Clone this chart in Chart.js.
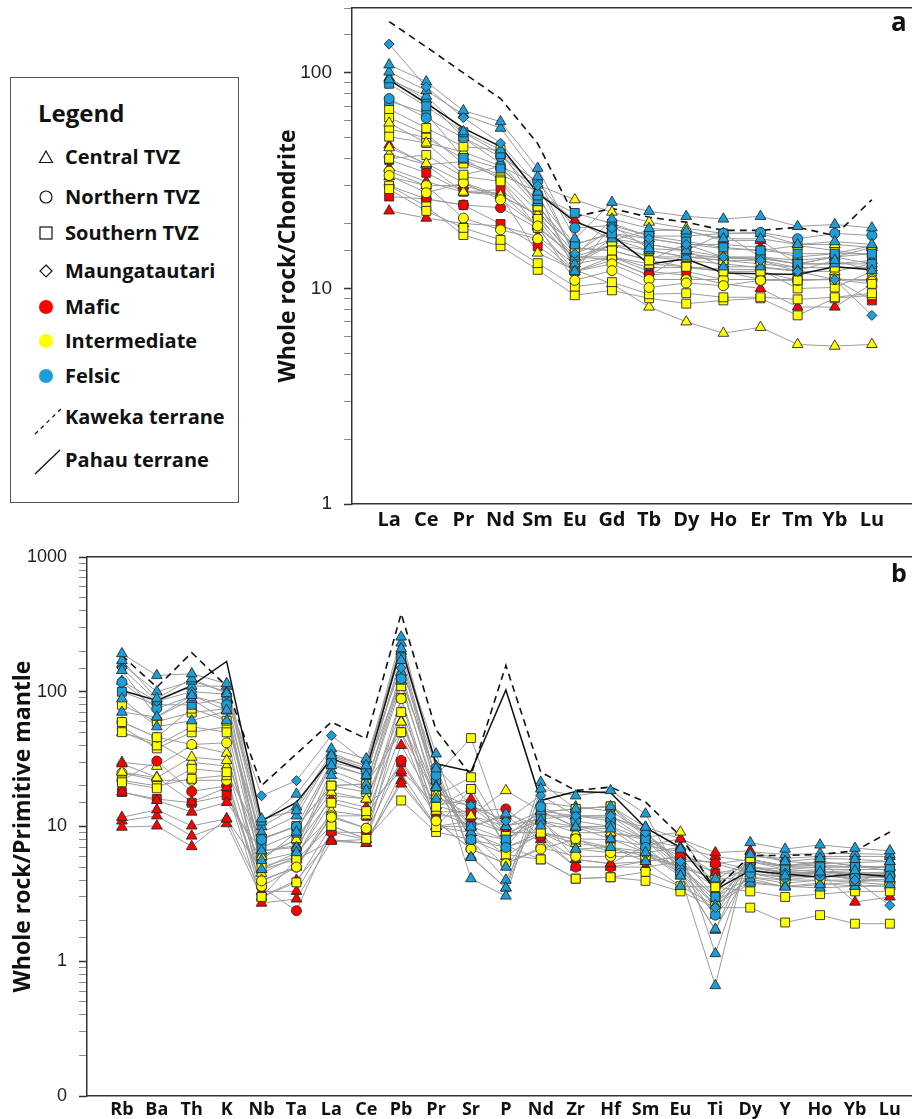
<!DOCTYPE html>
<html>
<head>
<meta charset="utf-8">
<script src="https://cdn.jsdelivr.net/npm/chart.js@4.4.0/dist/chart.umd.min.js"></script>
<style>
html,body{margin:0;padding:0;background:#fff;overflow:hidden;width:912px;height:1119px;position:relative;}
#wrapA{position:absolute;left:270px;top:0;width:670px;height:540px;}
#wrapB{position:absolute;left:0;top:540px;width:940px;height:585px;}
.tag{position:absolute;font-family:'Open Sans',sans-serif;font-weight:700;color:#111;line-height:1;}
#legend{position:absolute;left:10px;top:77px;width:229px;height:426px;border:1.3px solid #555;box-sizing:border-box;}
.lt{position:absolute;font-family:'Open Sans',sans-serif;font-weight:700;color:#111;white-space:nowrap;line-height:28px;}
.sym{position:absolute;}
</style>
</head>
<body>
<div id="wrapA"><canvas id="ca" width="670" height="540"></canvas></div>
<div id="wrapB"><canvas id="cb" width="940" height="585"></canvas></div>

<div id="legend"></div>
<div class="lt" style="left:38px;top:99px;font-size:24px;">Legend</div>
<svg class="sym" style="left:38px;top:149px" width="16" height="16"><polygon points="8,2 14.5,13.5 1.5,13.5" fill="none" stroke="#111" stroke-width="1.2"/></svg>
<div class="lt" style="left:65px;top:143px;font-size:20px;">Central TVZ</div>
<svg class="sym" style="left:38px;top:189px" width="16" height="16"><circle cx="8" cy="8" r="6" fill="none" stroke="#111" stroke-width="1.2"/></svg>
<div class="lt" style="left:65px;top:183px;font-size:20px;">Northern TVZ</div>
<svg class="sym" style="left:38px;top:225px" width="16" height="16"><rect x="2" y="2" width="12" height="12" fill="none" stroke="#111" stroke-width="1.2"/></svg>
<div class="lt" style="left:65px;top:219px;font-size:20px;">Southern TVZ</div>
<svg class="sym" style="left:38px;top:263px" width="16" height="16"><polygon points="8,2 14,8 8,14 2,8" fill="none" stroke="#111" stroke-width="1.2"/></svg>
<div class="lt" style="left:65px;top:257px;font-size:20px;">Maungatautari</div>
<svg class="sym" style="left:38px;top:299px" width="16" height="16"><circle cx="8" cy="8" r="7" fill="#ff0000"/></svg>
<div class="lt" style="left:65px;top:293px;font-size:20px;">Mafic</div>
<svg class="sym" style="left:38px;top:333px" width="16" height="16"><circle cx="8" cy="8" r="7" fill="#ffff00"/></svg>
<div class="lt" style="left:65px;top:327px;font-size:20px;">Intermediate</div>
<svg class="sym" style="left:38px;top:368px" width="16" height="16"><circle cx="8" cy="8" r="7" fill="#1a9fdb"/></svg>
<div class="lt" style="left:65px;top:362px;font-size:20px;">Felsic</div>
<svg class="sym" style="left:33px;top:405px" width="32" height="32"><line x1="2" y1="29" x2="29" y2="3" stroke="#111" stroke-width="1.3" stroke-dasharray="4,4"/></svg>
<div class="lt" style="left:65px;top:403px;font-size:20px;">Kaweka terrane</div>
<svg class="sym" style="left:33px;top:447px" width="32" height="32"><line x1="2" y1="27" x2="27" y2="3" stroke="#111" stroke-width="1.3"/></svg>
<div class="lt" style="left:65px;top:446px;font-size:20px;">Pahau terrane</div>

<div class="tag" style="left:891px;top:8px;font-size:26px;">a</div>
<div class="tag" style="left:891px;top:560px;font-size:25px;">b</div>

<script>
// ---------- categories ----------
const REE = ['La','Ce','Pr','Nd','Sm','Eu','Gd','Tb','Dy','Ho','Er','Tm','Yb','Lu'];
const SPIDER = ['Rb','Ba','Th','K','Nb','Ta','La','Ce','Pb','Pr','Sr','P','Nd','Zr','Hf','Sm','Eu','Ti','Dy','Y','Ho','Yb','Lu'];

// ---------- panel a: chondrite-normalised REE ----------
const reeKaweka = [173, 132, 100, 76, 47, 21.5, 23.5, 21.4, 20.3, 18.6, 18.6, 19.2, 17.6, 25.8];
const reePahau  = [92.8, 72.3, 55.4, 45.5, 27.7, 20.4, 17.6, 13.0, 13.7, 11.8, 11.7, 11.6, 12.6, 12.2];

const reeS01 = [136, 86, 62, 47.2, 30, 14.5, 19, 17, 16, 14, 13.5, 12, 11, 7.5];
const reeS02 = [109, 91, 66.8, 59.4, 36.1, 17, 25.1, 22.8, 21.6, 21, 21.6, 19.4, 19.8, 19.1];
const reeS03 = [101, 82.8, 64, 55.4, 33, 14, 21, 19, 18.5, 17, 17, 16, 16.5, 16];
const reeS04 = [93, 78, 53.4, 44, 28, 12, 19.6, 15.3, 15, 12.6, 12.6, 12.1, 13.5, 12.1];
const reeS05 = [89, 70, 53, 42, 27, 22.4, 20, 17.5, 16.5, 15.5, 15, 14.5, 14.5, 14.5];
const reeS06 = [76, 61.8, 50, 40.9, 31.3, 19.1, 19.6, 17.5, 17.5, 18, 18.2, 17, 18, 17.6];
const reeS07 = [74, 65, 40.3, 36, 26, 16, 18, 16, 15, 18, 14, 13, 14, 13];
const reeS08 = [95, 75, 50, 38, 25, 13, 17, 15, 14, 14, 13.8, 13, 13, 13.5];
const reeS09 = [68, 55.5, 45.5, 43.9, 24, 15.4, 15, 13.5, 12.6, 12, 12, 10.9, 11, 10.5];
const reeS10 = [58.6, 47.3, 43, 37, 30.2, 25.8, 22.6, 20.3, 19, 18, 18, 16, 16, 15.5];
const reeS11 = [50.6, 47.3, 33.7, 36.8, 24, 15.4, 15, 13.5, 16.1, 15.3, 15, 15.8, 15, 14.2];
const reeS12 = [33.4, 27.8, 30.9, 25.8, 19.5, 10.9, 12.1, 10.1, 10.6, 10.3, 10.9, 10.9, 11.1, 10.8];
const reeS13 = [28.9, 22.9, 19.1, 16.8, 13.1, 10.2, 10.7, 9.4, 9.5, 9.1, 9.1, 8.9, 9.1, 9.5];
const reeS14 = [30, 24, 17.7, 15.7, 12.2, 9.3, 9.8, 9, 8.5, 8.8, 9, 7.5, 9, 9.3];
const reeS15 = [45, 38, 31, 27, 14.6, 12.2, 10.5, 8.2, 7.0, 6.2, 6.6, 5.5, 5.4, 5.5];
const reeS16 = [35, 30, 21.2, 18.7, 17, 12, 13, 11, 11, 11, 11, 11, 11, 11];
const reeS17 = [40, 41.6, 33, 31.4, 19.1, 14, 14, 13, 12.6, 12.3, 12.2, 10, 10.1, 12];
const reeS18 = [55, 50, 40, 32, 21, 13, 16, 15, 14, 13.5, 13, 12.5, 12.5, 12.5];
const reeS19 = [42, 37.5, 28, 27, 22, 13.5, 16, 14, 13.5, 13, 12.5, 12, 12, 13];
const reeS20 = [62, 52, 38, 33, 23, 14.5, 17, 16, 15, 14, 14, 13.5, 14, 14.5];
const reeS21 = [46.3, 37.5, 38.8, 33.7, 28.1, 20.8, 16.7, 18.6, 18.6, 16.7, 16.7, 13, 14, 15.5];
const reeS22 = [39.5, 34.4, 28.1, 28.7, 21.5, 14.1, 13.5, 11.5, 14.5, 13.8, 13.8, 13, 13, 13];
const reeS23 = [36.2, 31.3, 28, 27.7, 19.4, 14, 16, 14, 14, 13.5, 13.5, 12.5, 12.5, 12.5];
const reeS24 = [26.7, 26, 24.4, 19.9, 15.7, 12, 13.5, 11.5, 12, 11, 11, 11, 11, 8.8];
const reeS25 = [22.9, 21.2, 20, 19.5, 17.4, 13, 14, 12, 11.5, 10.5, 10, 8.2, 8.2, 10.5];
const reeS26 = [30, 26, 24.4, 23.7, 19, 12, 14, 12.5, 12.5, 12, 11, 11, 11, 11];
const reeS27 = [33, 30, 30, 27, 22, 16, 18, 17, 16, 16, 15.5, 14, 14.5, 15.8];

const reeSamples = [reeS01,reeS02,reeS03,reeS04,reeS05,reeS06,reeS07,reeS08,reeS09,reeS10,reeS11,reeS12,reeS13,reeS14,
  reeS15,reeS16,reeS17,reeS18,reeS19,reeS20,reeS21,reeS22,reeS23,reeS24,reeS25,reeS26,reeS27];
// region: C=Central, N=Northern, S=Southern TVZ, M=Maungatautari ; rock: F=felsic, I=intermediate, B=mafic
const reeRegion = ['M','C','C','C','S','N','S','C','S','C','S','N','S','S','C','N','S','S','C','S','C','S','C','S','C','N','C'];
const reeRock   = ['F','F','F','F','F','F','F','F','I','I','I','I','I','I','I','I','I','I','I','I','B','B','B','B','B','B','B'];

// ---------- panel b: primitive-mantle-normalised spider diagram ----------
const pmKaweka = [186, 108, 195, 110, 20.1, 34.6, 59.6, 44.8, 380, 52, 24, 157, 25.3, 18.5, 19.6, 15.2, 8.5, 3.4, 6.1, 6.1, 6.2, 6.6, 9.1];
const pmPahau  = [102, 86.3, 111, 168, 11.0, 15.1, 31.8, 26.0, 215, 29.2, 25.6, 103, 15.6, 18.2, 17.8, 9.8, 7.0, 3.4, 4.7, 4.45, 4.2, 4.45, 4.25];

const pmS01 = [192, 132, 136, 115, 11.4, 13.1, 33.6, 28.3, 255, 26.8, 4.1, 3.05, 19.0, 16.9, 18.5, 12.4, 4.3, 0.66, 7.6, 6.8, 7.3, 6.9, 6.6];
const pmS02 = [171, 89, 125, 97, 10.8, 17.4, 37.7, 31.8, 209, 34.6, 5.9, 3.5, 21.3, 13.5, 14.1, 9.9, 6.8, 1.14, 6.2, 5.5, 5.8, 5.7, 5.5];
const pmS03 = [144, 65, 94, 73, 5.6, 9.1, 28.3, 23.9, 171, 19.5, 9.9, 12.4, 10.1, 9.9, 9.6, 6.4, 4.3, 1.73, 4.85, 4.3, 4.6, 4.7, 4.1];
const pmS04 = [150, 85, 100, 96, 16.9, 21.9, 47.3, 30, 150, 28, 14.3, 11, 17, 12, 12, 9, 5.5, 2.5, 5, 4.5, 4.5, 4, 2.6];
const pmS05 = [118, 75, 93, 80, 8, 10, 30, 26, 125, 24, 8, 7, 14, 11, 10, 7, 4.5, 2.2, 4.5, 4.2, 4.3, 4.2, 4.3];
const pmS06 = [88.7, 55, 61, 72, 4.8, 6.4, 23.9, 18.5, 120, 16, 14.3, 10, 13, 9.9, 8.1, 6.4, 5, 4.1, 4.1, 3.55, 3.7, 3.85, 4.1];
const pmS07 = [70.6, 64.9, 88, 61, 6.6, 7, 26, 20.7, 140, 20, 9, 5, 11, 6.8, 7, 5.5, 3.6, 2.6, 3.8, 3.6, 3.5, 3.6, 3.7];
const pmS08 = [100, 80, 80, 90, 7, 9, 29, 24, 180, 22, 10, 8, 12, 12, 11, 8, 5, 3, 5, 4.8, 5, 5, 5];
const pmS09 = [59.6, 46, 75, 61, 8.1, 10.1, 20.1, 20.7, 125, 23.9, 45.3, 8.5, 12.8, 13.5, 14.1, 8.3, 5.3, 3.55, 5.7, 5.1, 5.5, 5.1, 4.7];
const pmS10 = [59.6, 46, 40.6, 41.8, 3.95, 5.0, 11.7, 9.7, 88.7, 11, 6.8, 5.3, 6.8, 8.1, 6.4, 6.4, 4.5, 2.6, 5.7, 5.1, 5.3, 3.85, 4.7];
const pmS11 = [50.1, 40, 55, 50, 3.0, 3.85, 10.1, 8.1, 70.6, 9.9, 19, 7.2, 5.7, 4.1, 4.2, 3.95, 3.3, 2.5, 2.5, 1.94, 2.2, 1.9, 1.9];
const pmS12 = [25.3, 23, 32.7, 30.9, 6, 8, 18, 16, 59.6, 17, 12, 18.5, 13, 10, 9, 8.3, 9.1, 3.2, 5.5, 5, 5.2, 5, 5];
const pmS13 = [21.3, 19.2, 26.8, 25.3, 8.1, 10, 20.1, 20.7, 50.1, 16.9, 23.2, 8.5, 12.8, 13.5, 14.1, 9, 5.3, 4, 5.7, 5.1, 5.5, 5.1, 5];
const pmS14 = [22, 20, 22.6, 24, 3.0, 5.7, 10.1, 8.1, 15.6, 9.1, 8, 6.2, 5.7, 4.1, 4.2, 4.6, 3.6, 3.55, 3.3, 3, 3.15, 3.3, 3.3];
const pmS15 = [25, 22, 22, 22, 3.6, 5, 12, 9.7, 50, 11, 6.8, 5.3, 7, 6, 6, 6, 5, 2.6, 4.2, 4, 4, 3.85, 3.7];
const pmS16 = [55, 38, 50, 55, 5, 6, 15, 13, 90, 14, 19, 7, 9, 8, 7, 6, 5, 3, 4.2, 3.8, 4, 4, 3.9];
const pmS17 = [50, 42, 30, 28, 4, 5, 13, 12, 60, 13, 10, 6, 9, 7.5, 7, 6.5, 5, 2.8, 3.9, 3.6, 3.8, 3.6, 3.6];
const pmS18 = [29.2, 23.2, 15.2, 19.5, 2.7, 2.9, 7.8, 8, 40, 14.3, 16, 10.1, 11.4, 5.7, 5.3, 7.2, 8.1, 6.4, 6.6, 5.5, 5.3, 5.4, 5.5];
const pmS19 = [22, 30.6, 18.2, 20, 3.55, 2.37, 9.1, 9, 30.9, 12.8, 13, 13.5, 8.5, 5, 5, 5.5, 6, 5.3, 4.5, 4.2, 4.6, 4.2, 4.2];
const pmS20 = [18, 15.6, 12.8, 15.1, 6.6, 7.2, 16, 13.9, 26, 14.3, 12, 10.1, 11.4, 12, 11.5, 9.9, 8.1, 5.3, 5.7, 5, 5, 5, 5];
const pmS21 = [11.7, 13.3, 10.1, 11.4, 3.3, 3.3, 9.1, 8, 20.7, 10, 9, 7, 8.5, 5.7, 5.3, 5.5, 6, 4.5, 4.5, 4, 4.3, 4.1, 4];
const pmS22 = [9.9, 10.1, 7.1, 11.4, 4.8, 5.7, 7.8, 7.5, 22, 10, 11, 9, 9, 6.8, 6.4, 6.4, 7, 6, 5.5, 4.8, 4.6, 4.5, 4.5];
const pmS23 = [18, 16, 15, 17, 5.6, 6.4, 12, 12, 30, 12, 12, 9, 9, 8.1, 8, 7.2, 6.5, 4.5, 5, 4.5, 4.6, 4.4, 4.4];
const pmS24 = [11, 12, 8.5, 10.5, 3, 4, 8, 7.5, 25, 10, 10, 12, 8, 5, 5, 5, 5.5, 5.5, 4.8, 4.2, 4.5, 2.75, 3];
const pmS25 = [160, 100, 120, 100, 9, 12, 33, 27, 200, 22, 8, 4, 13, 12, 12, 8, 4.5, 1.7, 6.5, 6.2, 6.3, 6.3, 6.2];
const pmS26 = [120, 85, 110, 110, 10, 14, 35, 28, 230, 28, 6, 3.5, 15, 14, 13, 9, 5, 2.2, 6, 5.8, 6, 6, 6];
const pmS27 = [80, 60, 70, 75, 6, 8, 20, 18, 110, 18, 14, 9, 11, 10, 10, 8, 6, 3, 5, 4.6, 4.8, 4.8, 4.8];
const pmS28 = [30, 28, 40, 35, 4.5, 6, 17, 16, 70, 18, 9, 8, 11, 9, 9, 8, 7, 3.8, 5, 4.5, 4.6, 4.5, 4.6];

const pmSamples = [pmS01,pmS02,pmS03,pmS04,pmS05,pmS06,pmS07,pmS08,pmS09,pmS10,pmS11,pmS12,pmS13,pmS14,
  pmS15,pmS16,pmS17,pmS18,pmS19,pmS20,pmS21,pmS22,pmS23,pmS24,pmS25,pmS26,pmS27,pmS28];
const pmRegion = ['C','C','C','M','N','C','C','S','S','N','S','C','S','S','N','S','C','C','N','C','C','C','S','C','C','C','S','C'];
const pmRock   = ['F','F','F','F','F','F','F','F','I','I','I','I','I','I','I','I','I','B','B','B','B','B','B','B','F','F','I','I'];

// ---------- styling ----------
const ROCK_COLOR = {B:'#ff0000', I:'#ffff00', F:'#1a9fdb'};
const REGION_SHAPE = {C:'triangle', N:'circle', S:'rect', M:'rectRot'};
const SHAPE_RADIUS = {triangle:6.2, circle:5, rect:6.3, rectRot:5};
const FONT_SANS = "'Open Sans', sans-serif";
const FONT_TICK = "'Liberation Sans', Arial, sans-serif";

function pts(arr){ return arr.map((v,i)=>({x:i, y:v})); }

function buildDatasets(samples, region, rock, kaweka, pahau){
  const markers = [], greys = [];
  samples.forEach((s, k) => {
    const shape = REGION_SHAPE[region[k]];
    greys.push({data: pts(s), borderColor:'#9b9b9b', borderWidth:1, pointRadius:0, order:3});
    markers.push({data: pts(s), showLine:false, pointStyle:shape, pointRadius:SHAPE_RADIUS[shape],
      pointBackgroundColor:ROCK_COLOR[rock[k]], pointBorderColor:'#2a2a2a', pointBorderWidth:0.9, order:1});
  });
  const terr = [
    {data: pts(kaweka), borderColor:'#111', borderWidth:1.6, borderDash:[7,5], pointRadius:0, order:2},
    {data: pts(pahau), borderColor:'#111', borderWidth:1.5, pointRadius:0, order:2}
  ];
  return markers.concat(terr, greys);
}

function decadeLabel(v){
  const l = Math.log10(v);
  if (Math.abs(l - Math.round(l)) < 1e-6) return v < 1 ? '0' : String(Math.round(v));
  return '';
}

function makeChart(canvas, cfg){
  const cats = cfg.cats;
  return new Chart(canvas, {
    type:'line',
    data:{datasets: buildDatasets(cfg.samples, cfg.region, cfg.rock, cfg.kaweka, cfg.pahau)},
    options:{
      responsive:false, animation:false, events:[],
      layout:{padding:{top:cfg.padTop, left:0, right:0, bottom:0}},
      plugins:{legend:{display:false}, tooltip:{enabled:false}},
      elements:{line:{tension:0}},
      scales:{
        x:{type:'linear', position:'bottom', min:-1, max:cfg.xMax,
          afterBuildTicks:(s)=>{ s.ticks = cats.map((_,i)=>({value:i})); },
          afterFit:(s)=>{ s.height = cfg.xHeight; s.paddingLeft = 0; s.paddingRight = 0; },
          grid:{display:true, drawOnChartArea:false, drawTicks:false},
          border:{display:true, color:'#333', width:1.5},
          ticks:{autoSkip:false, maxRotation:0, padding:cfg.xPad, color:'#111',
            font:{family:FONT_SANS, weight:'bold', size:cfg.xFont},
            callback:(v)=> cats[v] ?? ''}
        },
        x2:{type:'linear', position:'top', min:-1, max:cfg.xMax,
          afterFit:(s)=>{ s.height = 0; s.paddingLeft = 0; s.paddingRight = 0; },
          grid:{display:true, drawOnChartArea:false, drawTicks:false},
          border:{display:true, color:'#333', width:1.5},
          ticks:{display:false}
        },
        y:{type:'logarithmic', min:cfg.yMin, max:cfg.yMax,
          afterFit:(s)=>{ s.width = cfg.yWidth; s.paddingTop = 0; s.paddingBottom = 0; },
          grid:{display:true, drawOnChartArea:false, drawTicks:true, tickLength:8,
            tickColor:(c)=> (c.tick && c.tick.major) ? '#333' : '#8a8a8a',
            tickWidth:(c)=> (c.tick && c.tick.major) ? 1.5 : 1},
          border:{display:true, color:'#333', width:1.5},
          ticks:{autoSkip:false, padding:12, color:'#222',
            font:{family:FONT_TICK, size:cfg.yFont}, callback:decadeLabel},
          title:{display:true, text:cfg.yTitle, color:'#111', padding:{top:cfg.titlePad, bottom:0},
            font:{family:FONT_SANS, weight:'bold', size:23, lineHeight:1.2}}
        }
      }
    }
  });
}

makeChart(document.getElementById('ca'), {
  cats:REE, samples:reeSamples, region:reeRegion, rock:reeRock, kaweka:reeKaweka, pahau:reePahau,
  xMax:14.64, xHeight:36, xPad:4, xFont:20, padTop:8, yMin:1, yMax:200, yWidth:82, yFont:19,
  yTitle:'Whole rock/Chondrite', titlePad:5
});
makeChart(document.getElementById('cb'), {
  cats:SPIDER, samples:pmSamples, region:pmRegion, rock:pmRock, kaweka:pmKaweka, pahau:pmPahau,
  xMax:23.23, xHeight:29, xPad:3, xFont:18, padTop:17, yMin:0.1, yMax:1000, yWidth:87, yFont:18,
  yTitle:'Whole rock/Primitive mantle', titlePad:10
});
</script>
</body>
</html>
